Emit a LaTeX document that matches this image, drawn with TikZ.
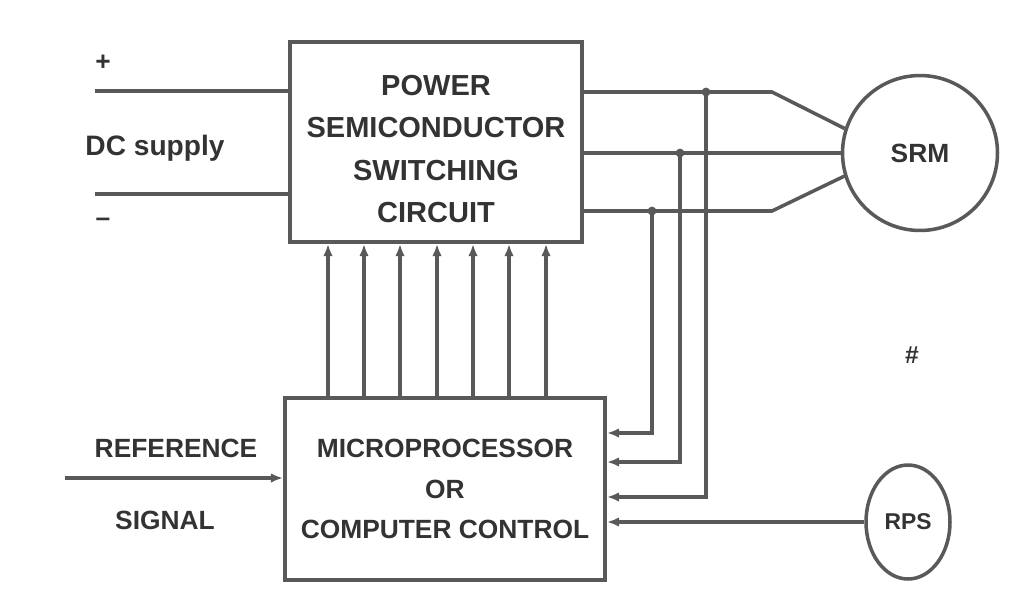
\documentclass[tikz,border=0pt]{standalone}
\usepackage{fontspec}
\setmainfont{Liberation Sans}
\usetikzlibrary{arrows.meta,shapes.geometric}
\tikzset{
  wire/.style={line width=2pt, draw=black!65},
  sig/.style={wire, -{Latex[length=7pt,width=5.5pt]}},
  block/.style={draw=black!65, line width=2.2pt, align=center, text=black!80},
  lbl/.style={font=\bfseries\fontsize{15}{18}\selectfont, text=black!80},
  jdot/.style={circle, fill=black!65, inner sep=0pt, minimum size=5pt},
}
\begin{document}
\begin{tikzpicture}[x=0.02cm, y=-0.02cm]
    \useasboundingbox (0,0) rectangle (1013,595);

    % Blocchi
    \node[block, minimum width=5.84cm, minimum height=4cm,
          font=\bfseries\fontsize{16.5}{24}\selectfont] (psc) at (436,142) {};
    \node[align=center, text=black!80, font=\bfseries\fontsize{16.5}{24}\selectfont] (psct)
          at (436,149) {POWER\\SEMICONDUCTOR\\SWITCHING\\CIRCUIT};
    \node[block, minimum width=6.4cm, minimum height=3.64cm,
          font=\bfseries\fontsize{15}{23}\selectfont] (mpc) at (445,489)
          {MICROPROCESSOR\\OR\\COMPUTER CONTROL};

    % Motore e sensore
    \node[circle, draw=black!65, line width=2pt, minimum size=3.1cm, lbl] (srm) at (920,153) {SRM};
    \node[ellipse, draw=black!65, line width=2pt, minimum width=1.68cm, minimum height=2.28cm,
          font=\bfseries\fontsize{13}{15}\selectfont, text=black!80] (rps) at (908,522) {RPS};
    \node[lbl, font=\bfseries\fontsize{14}{16}\selectfont] (shaft) at (912,355) {\#};

    % Alimentazione DC
    \coordinate (dcp) at (95,91);
    \coordinate (dcn) at (95,194);
    \draw[wire] (dcp) -- (dcp -| psc.west);
    \draw[wire] (dcn) -- (dcn -| psc.west);
    \node[lbl] (plus) at (103,63) {+};
    \node[lbl] (minus) at (103,222) {--};
    \node[lbl, font=\bfseries\fontsize{16}{18}\selectfont] (dcl) at (155,148) {DC supply};

    % Fasi verso il motore
    \coordinate (k1) at (772,92);
    \coordinate (k3) at (772,211);
    \draw[wire] (psc.east |- k1) -- (k1) -- (srm.162);
    \draw[wire] (psc.east |- srm.west) -- (srm.west);
    \draw[wire] (psc.east |- k3) -- (k3) -- (srm.197);

    % Prelievi di corrente
    \node[jdot] (t1) at (706,92) {};
    \node[jdot] (t2) at (680,153) {};
    \node[jdot] (t3) at (652,211) {};
    \draw[sig] (t1.center) |- (mpc.east |- 0,497);
    \draw[sig] (t2.center) |- (mpc.east |- 0,462);
    \draw[sig] (t3.center) |- (mpc.east |- 0,433);
    \draw[sig] (rps.west) -- (rps.west -| mpc.east);

    % Segnali di gate
    \foreach \x in {328,364,400,437,473,509,546}
        \draw[sig] (mpc.north -| \x,0) -- (psc.south -| \x,0);

    % Riferimento
    \coordinate (ref) at (65,478);
    \draw[sig] (ref) -- (ref -| mpc.west);
    \node[lbl] (refl) at (176,448) {REFERENCE};
    \node[lbl] (sigl) at (165,520) {SIGNAL};
\end{tikzpicture}
\end{document}
